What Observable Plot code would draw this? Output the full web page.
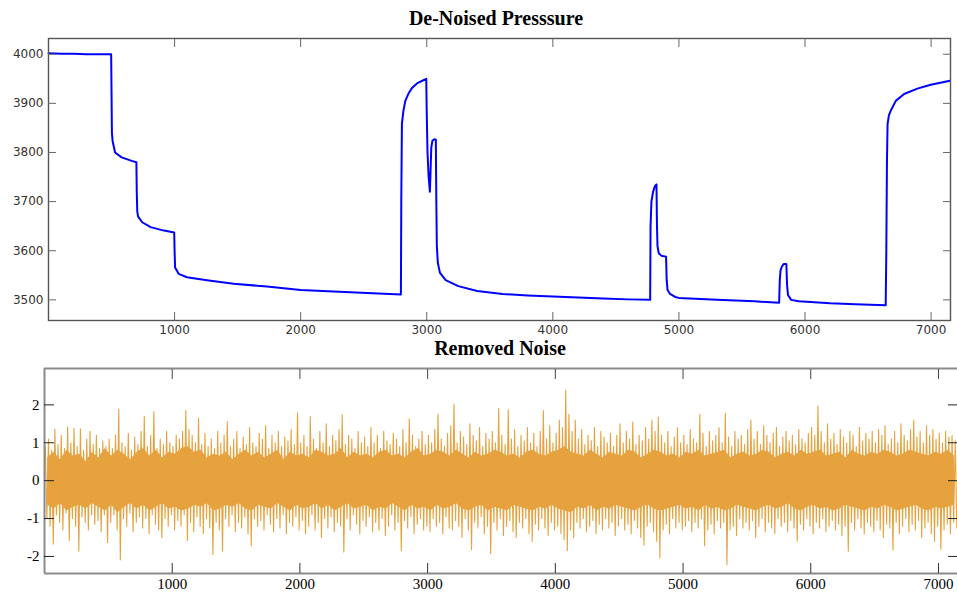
<!DOCTYPE html>
<html><head><meta charset="utf-8">
<script src="https://cdn.jsdelivr.net/npm/d3@7"></script>
<script src="https://cdn.jsdelivr.net/npm/@observablehq/plot@0.6"></script>
<style>
body{margin:0;background:#fff;}
#wrap{position:relative;width:957px;height:594px;overflow:hidden;background:#fff;}
.title{position:absolute;font-family:"Liberation Serif","Times New Roman",serif;font-weight:bold;font-size:20px;line-height:23px;color:#000;white-space:nowrap;transform:translateX(-50%);}
#t1{left:496px;top:7px;}
#t2{left:500px;top:337px;}
#p1{position:absolute;left:0;top:0;}
#p2{position:absolute;left:0;top:340px;}
</style></head><body>
<div id="wrap">
<div id="p1"></div><div id="p2"></div>
<div class="title" id="t1">De-Noised Presssure</div>
<div class="title" id="t2">Removed Noise</div>
</div>
<script>
// ---- Data: de-noised pressure ----
const pressX = [0,100,200,300,400,497,500,503,508,528,580,660,697,700,704,710,743,810,916,997,1000,1004,1032,1098,1257,1469,1733,2000,2262,2527,2795,2798,2803,2815,2830,2855,2885,2925,2965,2996,3000,3006,3015,3025,3030,3036,3045,3060,3072,3076,3080,3088,3105,3150,3250,3400,3600,3800,4000,4200,4400,4600,4772,4775,4782,4795,4810,4822,4826,4830,4840,4860,4898,4903,4910,4930,4970,5000,5300,5600,5795,5800,5806,5815,5830,5852,5858,5865,5890,5950,6200,6400,6640,6645,6650,6655,6665,6680,6720,6786,6891,6997,7150];
const pressY = [4002,4001,4001,4000,4000,4000,3920,3840,3824,3800,3790,3783,3780,3720,3680,3670,3658,3648,3641,3637,3600,3566,3553,3546,3540,3533,3527,3520,3517,3514,3511,3700,3858,3885,3905,3920,3932,3941,3946,3950,3880,3800,3750,3720,3760,3810,3824,3827,3826,3700,3610,3575,3555,3540,3528,3518,3512,3509,3507,3505,3503,3501,3500,3650,3700,3720,3732,3735,3650,3610,3595,3590,3588,3540,3520,3512,3506,3504,3500,3497,3494,3540,3560,3567,3573,3573,3530,3510,3500,3497,3493,3491,3489,3600,3780,3858,3875,3885,3905,3919,3930,3938,3946];

// ---- Data: removed noise, per-25-sample extremes ----
const noiseBin = 25;
const noiseHi = [
0.9,1.1,0.8,1.36,0.95,1.2,0.85,1.42,1.0,1.38,0.9,1.36,0.8,1.1,1.3,0.95,1.2,0.85,1.05,0.9,
1.1,0.85,1.2,1.89,1.0,0.9,1.25,0.8,1.15,0.95,1.3,1.70,0.9,1.2,1.82,0.85,1.1,0.95,1.3,1.0,
0.9,1.2,1.1,1.3,1.86,1.35,1.2,1.0,1.65,0.95,1.25,0.9,1.1,0.85,1.3,1.0,1.2,1.56,0.9,1.1,
1.3,0.85,1.15,0.95,1.4,1.0,0.9,1.25,1.1,1.45,0.85,1.2,1.0,1.3,0.9,1.15,1.05,1.35,0.95,1.79,
1.0,1.2,0.9,1.69,1.1,0.85,1.3,1.0,1.5,0.9,1.2,1.05,1.35,1.74,0.95,1.2,1.1,0.85,1.3,1.0,
1.15,0.9,1.4,1.0,1.2,0.85,1.3,1.05,0.95,1.25,1.1,0.9,1.35,1.0,1.63,1.2,0.9,1.1,1.3,0.95,
1.2,1.0,1.35,1.76,1.1,0.9,1.25,1.45,2.02,1.0,1.3,1.15,0.95,1.5,1.2,1.05,1.4,0.9,1.25,1.1,
1.3,1.0,1.91,1.2,0.95,1.87,1.1,1.35,0.9,1.2,1.05,1.4,1.0,1.25,0.9,1.3,1.85,1.1,1.45,1.0,
1.25,1.6,1.4,2.39,1.75,1.3,1.6,1.1,1.35,0.95,1.2,1.05,1.4,0.9,1.3,1.15,1.0,1.25,0.9,1.2,
1.5,1.0,1.3,1.1,1.55,0.95,1.2,1.05,1.4,1.1,1.6,1.3,1.68,1.2,1.0,1.3,0.9,1.15,1.4,1.0,
1.2,0.95,1.35,1.1,1.0,1.75,1.25,0.9,1.3,1.05,1.2,1.4,1.0,1.78,1.15,0.9,1.3,1.1,1.2,0.95,
1.35,1.6,1.1,1.3,0.95,1.45,1.2,1.0,1.25,1.4,0.9,1.15,1.3,1.05,1.2,0.95,1.35,1.1,1.0,1.25,
1.4,1.2,1.97,1.3,1.0,1.5,1.1,1.25,0.95,1.35,1.15,1.0,1.3,1.2,0.9,1.4,1.05,1.25,1.1,1.3,
1.0,1.35,1.2,1.45,0.95,1.1,1.3,1.0,1.5,1.2,1.05,1.35,1.6,1.15,1.3,1.0,1.45,1.2,1.35,1.1,
1.25,1.0,1.3,1.15,1.2,1.05];
const noiseLo = [
-1.0,-1.2,-1.67,-0.9,-1.1,-1.3,-0.85,-1.58,-1.0,-1.2,-1.86,-0.95,-1.1,-1.3,-0.9,-1.15,-1.05,-1.35,-0.9,-1.63,
-1.1,-0.9,-1.3,-2.09,-1.0,-1.2,-0.85,-1.35,-1.1,-0.95,-1.25,-1.0,-1.4,-0.9,-1.15,-1.3,-1.5,-1.0,-1.2,-0.9,
-1.3,-1.05,-1.2,-0.9,-1.58,-1.1,-1.35,-0.95,-1.2,-1.4,-1.0,-1.25,-1.95,-1.1,-1.3,-1.86,-1.0,-1.2,-0.9,-1.35,
-1.1,-1.25,-0.95,-1.4,-1.72,-1.0,-1.2,-1.05,-1.3,-0.9,-1.15,-1.35,-1.0,-1.25,-0.9,-1.4,-1.1,-1.2,-0.95,-1.3,
-1.05,-1.4,-1.2,-0.9,-1.3,-1.1,-1.5,-1.0,-1.25,-0.95,-1.35,-1.1,-1.2,-1.88,-1.0,-1.3,-0.9,-1.15,-1.4,-1.05,
-1.2,-0.95,-1.35,-1.1,-1.3,-1.0,-1.45,-1.2,-0.9,-1.3,-1.1,-1.85,-1.05,-1.25,-0.95,-1.4,-1.15,-1.0,-1.3,-1.2,
-1.35,-1.0,-1.2,-1.1,-1.4,-0.95,-1.25,-1.3,-1.05,-1.2,-1.5,-1.0,-1.3,-1.82,-1.1,-1.25,-0.95,-1.4,-1.2,-1.93,
-1.1,-1.3,-1.0,-1.45,-1.2,-1.05,-1.35,-1.5,-1.1,-1.25,-1.0,-1.4,-1.6,-1.15,-1.3,-1.0,-1.25,-1.45,-1.1,-1.3,
-1.2,-1.4,-1.55,-1.85,-1.3,-1.5,-1.1,-1.25,-1.0,-1.35,-1.2,-1.05,-1.4,-1.15,-1.3,-1.0,-1.25,-1.1,-1.45,-1.2,
-1.0,-1.3,-1.15,-1.4,-1.05,-1.25,-1.5,-1.70,-1.2,-1.1,-1.35,-1.6,-2.04,-1.3,-1.15,-1.4,-1.0,-1.25,-1.1,-1.3,
-1.2,-1.05,-1.35,-1.1,-1.25,-1.0,-1.72,-1.3,-1.15,-1.4,-1.05,-1.25,-1.1,-2.22,-1.3,-1.2,-1.45,-1.0,-1.25,-1.1,
-1.3,-1.05,-1.5,-1.2,-1.0,-1.35,-1.1,-1.25,-1.4,-1.0,-1.2,-1.1,-1.35,-1.05,-1.25,-1.6,-1.15,-1.3,-1.0,-1.2,
-1.4,-1.1,-1.25,-1.0,-1.35,-1.2,-1.05,-1.3,-1.15,-1.45,-1.2,-1.86,-1.1,-1.3,-1.0,-1.25,-1.4,-1.1,-1.2,-1.35,
-1.05,-1.3,-1.5,-1.15,-1.25,-1.83,-1.1,-1.4,-1.2,-1.0,-1.35,-1.15,-1.3,-1.05,-1.5,-1.25,-1.1,-1.4,-1.6,-1.2,
-1.81,-1.3,-1.15,-1.4,-1.1,-1.25];
// dense core band of the noise, per 50 samples
const coreBin = 50;
const coreHi = [
0.60,0.75,0.55,0.80,0.65,0.70,0.50,0.75,0.60,0.85,
0.65,0.80,0.70,0.55,0.75,0.85,0.65,0.80,0.60,0.75,
0.70,0.85,0.90,0.75,0.80,0.60,0.70,0.65,0.75,0.55,
0.70,0.80,0.65,0.75,0.60,0.70,0.80,0.55,0.75,0.65,
0.70,0.60,0.80,0.75,0.65,0.70,0.85,0.60,0.75,0.65,
0.70,0.60,0.75,0.80,0.65,0.70,0.60,0.75,0.85,0.65,
0.70,0.80,0.75,0.65,0.80,0.70,0.60,0.75,0.65,0.70,
0.80,0.75,0.65,0.70,0.60,0.75,0.80,0.70,0.65,0.75,
0.80,0.90,0.75,0.70,0.65,0.80,0.70,0.60,0.75,0.70,
0.65,0.80,0.75,0.60,0.70,0.80,0.75,0.65,0.70,0.60,
0.75,0.70,0.80,0.65,0.70,0.75,0.80,0.60,0.70,0.75,
0.65,0.70,0.80,0.75,0.60,0.70,0.75,0.65,0.80,0.70,
0.75,0.80,0.65,0.70,0.75,0.60,0.80,0.70,0.65,0.75,
0.70,0.80,0.75,0.65,0.70,0.80,0.75,0.70,0.65,0.75,
0.70,0.80,0.65];
const coreLo = [
-0.65,-0.75,-0.60,-0.80,-0.70,-0.65,-0.75,-0.60,-0.70,-0.80,
-0.65,-0.85,-0.70,-0.60,-0.75,-0.65,-0.80,-0.70,-0.60,-0.75,
-0.70,-0.80,-0.75,-0.65,-0.70,-0.60,-0.80,-0.75,-0.65,-0.70,
-0.60,-0.75,-0.80,-0.65,-0.70,-0.75,-0.60,-0.70,-0.80,-0.65,
-0.75,-0.70,-0.60,-0.75,-0.65,-0.80,-0.70,-0.60,-0.75,-0.70,
-0.65,-0.80,-0.70,-0.75,-0.60,-0.70,-0.80,-0.65,-0.75,-0.70,
-0.80,-0.65,-0.75,-0.70,-0.60,-0.75,-0.80,-0.70,-0.65,-0.80,
-0.70,-0.75,-0.80,-0.65,-0.70,-0.75,-0.80,-0.70,-0.75,-0.65,
-0.75,-0.80,-0.85,-0.70,-0.75,-0.65,-0.80,-0.70,-0.75,-0.65,
-0.70,-0.75,-0.80,-0.70,-0.65,-0.75,-0.80,-0.75,-0.70,-0.65,
-0.75,-0.70,-0.80,-0.65,-0.75,-0.70,-0.80,-0.75,-0.65,-0.70,
-0.75,-0.80,-0.70,-0.65,-0.75,-0.70,-0.60,-0.75,-0.80,-0.70,
-0.65,-0.75,-0.70,-0.80,-0.75,-0.65,-0.70,-0.75,-0.80,-0.70,
-0.75,-0.65,-0.70,-0.80,-0.75,-0.70,-0.65,-0.75,-0.80,-0.70,
-0.75,-0.70,-0.65];

// ---- Tick labels ----
const xTicks = [1000,2000,3000,4000,5000,6000,7000];
const yTicksTop = [3500,3600,3700,3800,3900,4000];
const yTicksBottom = [-2,-1,0,1,2];
const xDomTop = [0, 7154], yDomTop = [3458, 4032];
const xDomBot = [0, 7149], yDomBot = [-2.45, 2.96];

const blue = "#0000ff", orange = "#e6a23e";
const fmt = d => String(d);

// build tables
const pressure = pressX.map((x,i)=>({x, y: pressY[i]}));
const zig = [];
noiseHi.forEach((h,i)=>{
  zig.push({x: i*noiseBin + noiseBin*0.25, y: h});
  zig.push({x: i*noiseBin + noiseBin*0.75, y: noiseLo[i]});
});
const core = coreHi.map((h,i)=>({x: i*coreBin + coreBin/2, hi: h, lo: coreLo[i]}));

const topPlot = Plot.plot({
  width: 957, height: 340,
  marginTop: 38, marginBottom: 20, marginLeft: 48, marginRight: 7,
  x: {domain: xDomTop, label: null},
  y: {domain: yDomTop, label: null},
  style: {fontFamily: "DejaVu Sans, sans-serif", fontSize: "12px", color: "#333", background: "#fff", overflow: "visible"},
  marks: [
    Plot.line(pressure, {x: "x", y: "y", stroke: blue, strokeWidth: 2}),
    Plot.frame({stroke: "#555", strokeWidth: 1.4}),
    Plot.axisX(xTicks, {anchor: "bottom", tickSize: 8, inset: 8, fill: "none", stroke: "#666", label: null}),
    Plot.axisX(xTicks, {anchor: "top", tickSize: 8, inset: 8, fill: "none", stroke: "#666", label: null}),
    Plot.axisX(xTicks, {anchor: "bottom", tickSize: 0, tickPadding: 5, fill: "#333", label: null, tickFormat: fmt}),
    Plot.axisY(yTicksTop, {anchor: "left", tickSize: 8, inset: 8, fill: "none", stroke: "#666", label: null}),
    Plot.axisY(yTicksTop, {anchor: "right", tickSize: 8, inset: 8, fill: "none", stroke: "#666", label: null}),
    Plot.axisY(yTicksTop, {anchor: "left", tickSize: 0, tickPadding: 5, fill: "#333", label: null, tickFormat: fmt})
  ]
});
document.getElementById("p1").appendChild(topPlot);

const botPlot = Plot.plot({
  width: 957, height: 254,
  marginTop: 28, marginBottom: 21, marginLeft: 44, marginRight: 0,
  x: {domain: xDomBot, label: null},
  y: {domain: yDomBot, label: null},
  style: {fontFamily: "Liberation Serif, Times New Roman, serif", fontSize: "15px", color: "#000", background: "#fff", overflow: "visible"},
  marks: [
    Plot.areaY(core, {x: "x", y1: "lo", y2: "hi", curve: "linear", fill: orange}),
    Plot.line(zig, {x: "x", y: "y", stroke: orange, strokeWidth: 1.1}),
    Plot.ruleX([xDomBot[0]], {stroke: "#8a8a8a", strokeWidth: 2}),
    Plot.ruleY(yDomBot, {stroke: "#8a8a8a", strokeWidth: 2}),
    Plot.axisX(xTicks, {anchor: "bottom", tickSize: 10, inset: 10, fill: "none", stroke: "#333", label: null}),
    Plot.axisX(xTicks, {anchor: "top", tickSize: 10, inset: 10, fill: "none", stroke: "#444", label: null}),
    Plot.axisX(xTicks, {anchor: "bottom", tickSize: 0, tickPadding: 5, fill: "#000", label: null, tickFormat: fmt}),
    Plot.axisY(yTicksBottom, {anchor: "left", tickSize: 10, inset: 10, fill: "none", stroke: "#222", label: null}),
    Plot.axisY(yTicksBottom, {anchor: "right", tickSize: 10, inset: 10, fill: "none", stroke: "#222", label: null}),
    Plot.axisY(yTicksBottom, {anchor: "left", tickSize: 0, tickPadding: 5, fill: "#000", label: null, tickFormat: fmt})
  ]
});
document.getElementById("p2").appendChild(botPlot);
</script>
</body></html>
